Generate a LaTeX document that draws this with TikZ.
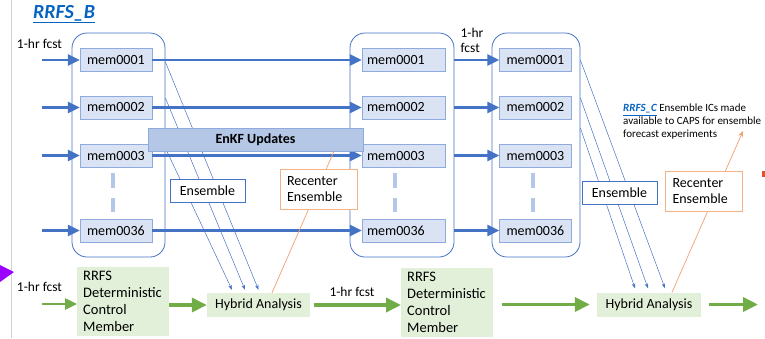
\documentclass[tikz,border=0pt]{standalone}
\usepackage{fontspec}
\setmainfont{Carlito}
\usetikzlibrary{arrows.meta}
\definecolor{arrowblue}{HTML}{4472C4}
\definecolor{memfill}{HTML}{DAE3F3}
\definecolor{memedge}{HTML}{8FAADC}
\definecolor{enkffill}{HTML}{B4C7E7}
\definecolor{dashcol}{HTML}{B4C7E7}
\definecolor{ctrlgreen}{HTML}{70AD47}
\definecolor{ctrlfill}{HTML}{E2F0D9}
\definecolor{rctredge}{HTML}{F4B183}
\definecolor{rctrline}{HTML}{F0A070}
\definecolor{linkblue}{HTML}{0563C1}
\definecolor{purp}{HTML}{9B00FF}
\definecolor{redmark}{HTML}{E8502A}

\begin{document}
\begin{tikzpicture}[x=1pt,y=-1pt,
	mem/.style={draw=memedge,fill=memfill,minimum height=23pt,text width=58pt,inner xsep=7pt,inner ysep=0pt,font=\fontsize{14}{16}\selectfont},
	midmem/.style={mem,text width=73pt,inner xsep=5pt},
	grp/.style={draw=arrowblue,line width=0.8pt,rounded corners=15pt,minimum height=224pt,inner sep=0pt},
	fcst/.style={arrowblue,line width=2.5pt,-{Triangle[length=12pt,width=11pt]}},
	ens/.style={arrowblue,line width=0.5pt,-{Stealth[length=5pt,width=3.5pt]}},
	gfcst/.style={ctrlgreen,line width=3.5pt,-{Triangle[length=15pt,width=14pt]}},
	ctrl/.style={fill=ctrlfill,text width=80pt,inner xsep=6pt,inner ysep=4pt,align=left,anchor=north west,font=\fontsize{14.5}{17}\selectfont},
	hyb/.style={fill=ctrlfill,minimum height=24pt,inner sep=0pt,font=\fontsize{14}{16}\selectfont},
	tag/.style={draw=arrowblue,fill=white,line width=0.6pt,minimum width=75pt,minimum height=23pt,inner sep=0pt,font=\fontsize{14}{16}\selectfont},
	rctr/.style={draw=rctredge,fill=white,line width=0.8pt,minimum height=40pt,text width=63pt,inner xsep=7pt,inner ysep=0pt,align=left,font=\fontsize{14}{16}\selectfont},
	lbl/.style={font=\fontsize{13.5}{15}\selectfont,inner sep=0pt}]
	\useasboundingbox (0,0) rectangle (765,338);
	\draw[gray!35,line width=0.6pt] (11,0) -- (11,338);
	\node[font=\fontsize{20}{24}\selectfont\bfseries\itshape,text=linkblue,inner sep=0pt] (ttl) at (64,14) {\underline{RRFS\_B}};
	\node[grp,minimum width=93pt] (grpA) at (118.5,145) {};
	\node[grp,minimum width=104pt] (grpB) at (402,145) {};
	\node[grp,minimum width=88pt] (grpC) at (536,145) {};
	\foreach \i/\y/\lab in {1/60/0001,2/107.5/0002,3/155.5/0003,36/230.5/0036} {
		\node[mem] (a\i) at (116,\y) {mem\lab};
		\node[midmem] (b\i) at (403.5,\y) {mem\lab};
		\node[mem] (c\i) at (535.5,\y) {mem\lab};
		\coordinate (in\i) at (42,\y);
		\draw[fcst] (in\i) -- (a\i.west);
		\draw[fcst] (a\i.east) -- (b\i.west);
		\draw[fcst] (b\i.east -| grpB.east) -- (c\i.west);
	}
	\foreach \x in {113,395,533}
		\draw[dashcol,line width=4pt] (\x,173) -- (\x,188) (\x,198) -- (\x,212);
	\node[lbl] (fcA) at (39.5,44) {1-hr fcst};
	\node[lbl,align=left] (fcB) at (472,40) {1-hr\\fcst};
	\node[lbl] (fcC) at (39.5,287) {1-hr fcst};
	\node[ctrl] (rrfsA) at (77,267) {RRFS\\Deterministic\\Control\\Member};
	\node[ctrl] (rrfsB) at (401,268) {RRFS\\Deterministic\\Control\\Member};
	\node[hyb,minimum width=103pt] (hybA) at (258.5,305) {Hybrid Analysis};
	\node[hyb,minimum width=104pt] (hybB) at (649,304.5) {Hybrid Analysis};
	\draw[ens] ([yshift=-2pt]a1.east -| grpA.east) -- ([yshift=3pt]hybA.north);
	\draw[ens] ([yshift=9.5pt]a2.east -| grpA.east) -- ([xshift=-13.5pt,yshift=3pt]hybA.north);
	\draw[ens] ([yshift=7.5pt]a3.east -| grpA.east) -- ([xshift=-26.5pt,yshift=3pt]hybA.north);
	\draw[ens] (c1.east -| grpC.east) -- ([xshift=16pt,yshift=4pt]hybB.north);
	\draw[ens] ([yshift=9.5pt]c2.east -| grpC.east) -- ([xshift=-1pt,yshift=4pt]hybB.north);
	\draw[ens] ([yshift=27.5pt]c3.east -| grpC.east) -- ([xshift=-14pt,yshift=4pt]hybB.north);
	\node[draw=memedge,fill=enkffill,minimum width=215pt,minimum height=23pt,inner sep=0pt,font=\fontsize{14}{16}\selectfont\bfseries] (enkf) at (255.5,139.5) {EnKF Updates};
	\draw[rctrline,line width=0.7pt] ([xshift=13.5pt]hybA.north) -- ([xshift=78.5pt]enkf.south);
	\coordinate (capsTip) at (743,131);
	\draw[rctrline,line width=0.7pt,-{Stealth[length=6pt,width=5pt]}] ([xshift=23pt]hybB.north) -- (capsTip);
	\node[tag] (ensA) at (207.5,191) {Ensemble};
	\node[tag] (ensB) at (619.5,193) {Ensemble};
	\node[rctr] (rctrA) at (318.5,189.5) {Recenter\\Ensemble};
	\node[rctr] (rctrB) at (704,191) {Recenter\\Ensemble};
	\node[anchor=north west,inner sep=0pt,align=left,font=\fontsize{11}{13}\selectfont] (caps) at (623,104) {{\bfseries\itshape\color{linkblue}\underline{RRFS\_C}} Ensemble ICs made\\available to CAPS for ensemble\\forecast experiments};
	\coordinate (inctl) at (42,304);
	\draw[gfcst,line width=2.5pt,-{Triangle[length=12pt,width=11pt]}] (inctl) -- (rrfsA.west |- inctl);
	\draw[gfcst] (rrfsA.east |- hybA.west) -- (hybA.west);
	\draw[gfcst] ([xshift=4pt]hybA.east) -- (rrfsB.west |- hybA.east);
	\node[lbl] (fcD) at (352,292) {1-hr fcst};
	\draw[gfcst] ([xshift=9pt]rrfsB.east |- hybB.west) -- ([xshift=-7pt]hybB.west);
	\coordinate (outctl) at (758,304.5);
	\draw[gfcst] ([xshift=8pt]hybB.east) -- (outctl);
	\fill[purp] (0,265) -- (14,272) -- (0,282) -- cycle;
	\fill[redmark] (762,171) rectangle (765,177);
\end{tikzpicture}
\end{document}
